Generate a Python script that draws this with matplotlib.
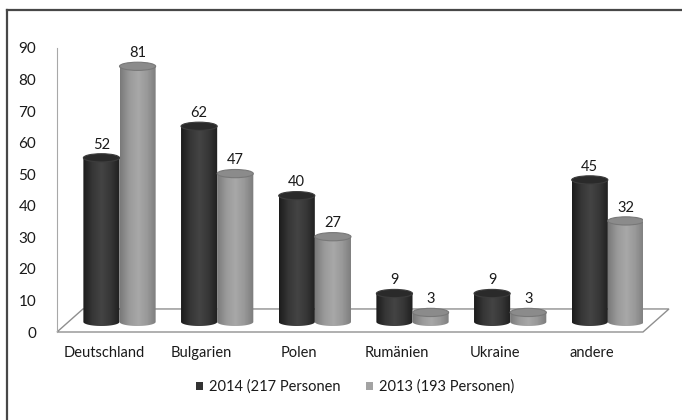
import matplotlib.pyplot as plt
import numpy as np
from matplotlib.patches import Ellipse, Polygon, Patch, PathPatch
from matplotlib.path import Path
from matplotlib.colors import LinearSegmentedColormap
from matplotlib.lines import Line2D

plt.rcParams['font.family'] = ['Lato', 'DejaVu Sans']

countries = ["Deutschland", "Bulgarien", "Polen", "Rumänien", "Ukraine", "andere"]
vals_2014 = [52, 62, 40, 9, 9, 45]
vals_2013 = [81, 47, 27, 3, 3, 32]
series_names = ["2014 (217 Personen", "2013 (193 Personen)"]
yticks = list(range(0, 100, 10))

# fake 3d look: floor depth and where the cylinders stand on it (data units)
depth_x, depth_y = 0.266, 7.3
bar_dx, bar_dy = 0.16, 3.2
bar_w = 0.37
ell_h = 2.6

dark_grad = ["#1c1c1c", "#363636", "#444444", "#373737", "#1f1f1f"]
light_grad = ["#7a7a7a", "#9a9a9a", "#a8a8a8", "#989898", "#7c7c7c"]
txt = "#1a1a1a"


def cylinder(ax, xl, value, grad_colors, top_face, top_edge):
    xr = xl + bar_w
    xc = xl + bar_w / 2
    base = bar_dy
    top = base + value
    t = np.linspace(np.pi, 2 * np.pi, 40)
    bottom = np.column_stack([xc + bar_w / 2 * np.cos(t),
                              base + ell_h / 2 * np.sin(t)])
    verts = np.vstack([[xl, top], bottom, [xr, top], [xl, top]])
    body = PathPatch(Path(verts, closed=True), facecolor="none",
                     edgecolor="none", transform=ax.transData)
    ax.add_patch(body)
    cmap = LinearSegmentedColormap.from_list("cyl", grad_colors)
    im = ax.imshow(np.linspace(0, 1, 64)[None, :], cmap=cmap,
                   extent=(xl, xr, base - ell_h / 2, top), aspect="auto",
                   interpolation="bilinear", zorder=3)
    im.set_clip_path(body)
    ax.add_patch(Ellipse((xc, top), bar_w, ell_h, facecolor=top_face,
                         edgecolor=top_edge, lw=0.8, zorder=4))
    ax.text(xc, top + ell_h / 2 + 0.7, str(value), ha="center", va="bottom",
            fontsize=10.5, color=txt, zorder=5)


fig = plt.figure(figsize=(6.82, 4.20), dpi=100)
ax = fig.add_axes([57 / 682, 88 / 420, 586 / 682, 284 / 420])

x = np.arange(len(countries))
for i in x:
    cylinder(ax, i + bar_dx - bar_w, vals_2014[i], dark_grad, "#2a2a2a", "#3c3c3c")
    cylinder(ax, i + bar_dx, vals_2013[i], light_grad, "#8b8b8b", "#787878")

ax.set_xlim(-0.48, 5.52)
ax.set_ylim(0, 90)
x0, x1 = ax.get_xlim()

# floor of the chart
ax.add_patch(Polygon([(x0, 0), (x1, 0), (x1 + depth_x, depth_y), (x0 + depth_x, depth_y)],
                     closed=True, facecolor="white", edgecolor="#8f8f8f", lw=1.0,
                     clip_on=False, zorder=1))

ax.set_yticks(yticks)
ax.set_xticks(x, countries)
ax.tick_params(axis="y", length=0, pad=15, labelsize=11, labelcolor=txt)
ax.tick_params(axis="x", length=0, pad=10, labelsize=10.5, labelcolor=txt)
for s in ["top", "right", "bottom"]:
    ax.spines[s].set_visible(False)
ax.spines["left"].set_color("#a8a8a8")
ax.spines["left"].set_linewidth(0.8)
ax.set_facecolor("none")

handles = [Patch(facecolor="#333333"), Patch(facecolor="#a3a3a3")]
fig.legend(handles, series_names, loc="center", bbox_to_anchor=(355 / 682, 1 - 387 / 420),
           ncol=2, frameon=False, fontsize=10.5, handlelength=0.5, handleheight=0.5,
           handletextpad=0.4, columnspacing=1.7, labelcolor=txt)

# frame lines
fig.add_artist(Line2D([7 / 682, 7 / 682], [0, 1 - 10 / 420], transform=fig.transFigure,
                      color="#474747", lw=1.6))
fig.add_artist(Line2D([7 / 682, 1], [1 - 10 / 420, 1 - 10 / 420], transform=fig.transFigure,
                      color="#474747", lw=1.6))

fig.savefig("out.png", dpi=100)
